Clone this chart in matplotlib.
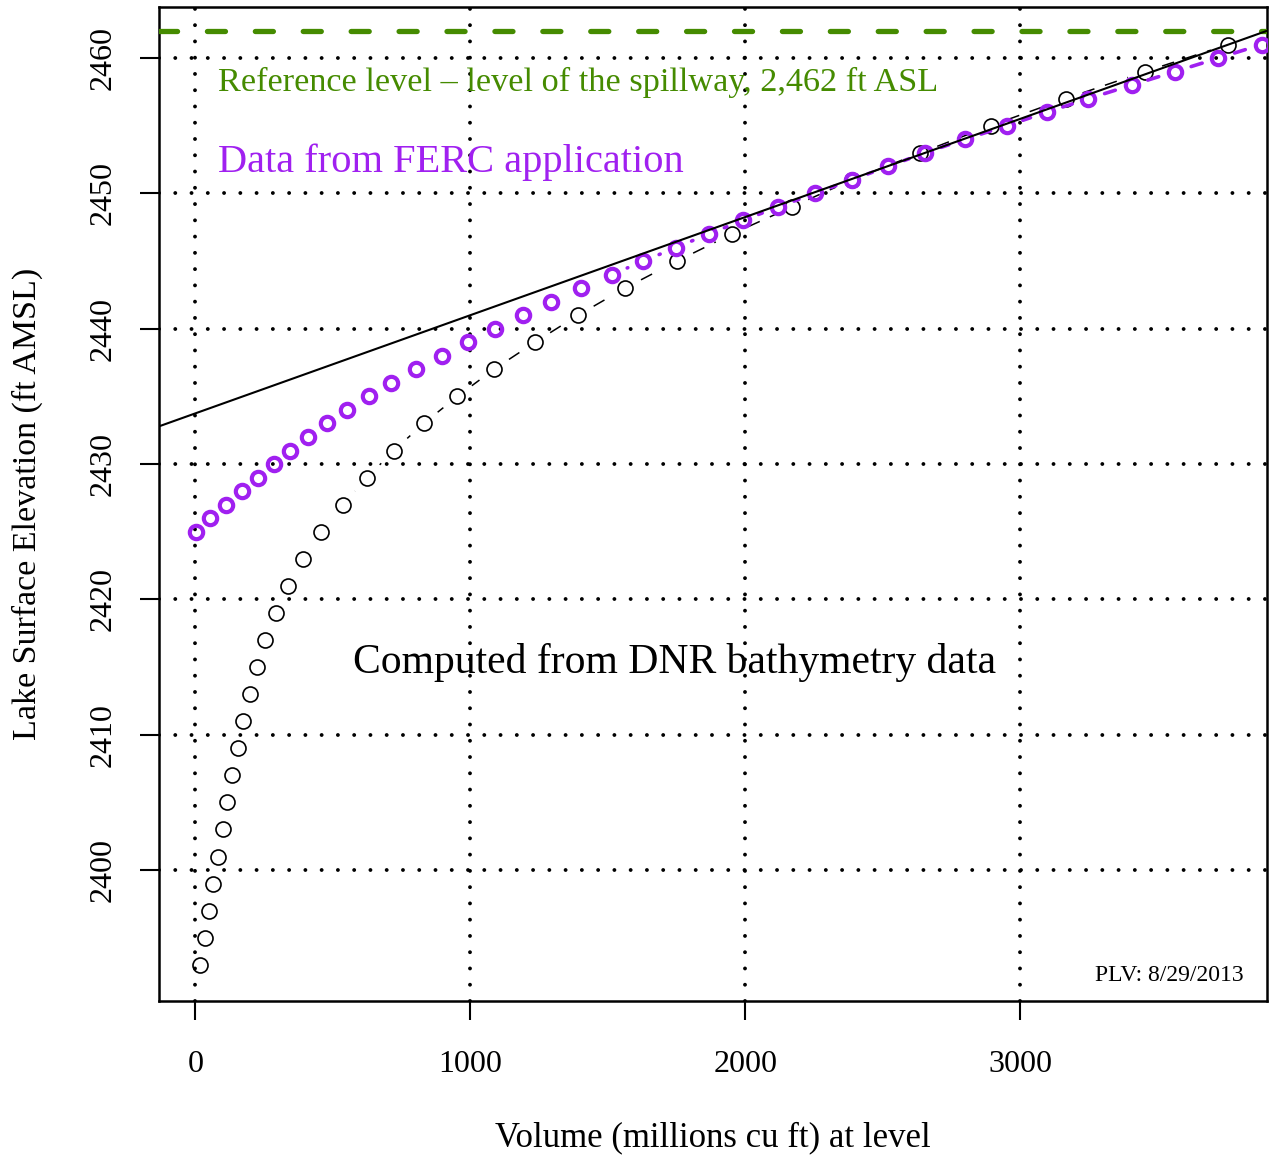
import numpy as np
import matplotlib
matplotlib.use("Agg")
import matplotlib.pyplot as plt
from matplotlib.collections import LineCollection

plt.rcParams['font.family'] = ['Liberation Serif', 'DejaVu Serif']
plt.rcParams['lines.scale_dashes'] = False

# DNR bathymetry: elevation (ft) vs volume (millions cu ft)
dnr_elev = [2393, 2395, 2397, 2399, 2401, 2403, 2405, 2407, 2409, 2411, 2413, 2415,
            2417, 2419, 2421, 2423, 2425, 2427, 2429, 2431, 2433, 2435, 2437, 2439,
            2441, 2443, 2445, 2447, 2449, 2451, 2453, 2455, 2457, 2459, 2461]
dnr_vol = [16, 33, 48, 65, 82, 99, 116, 134, 154, 174, 197, 224,
           254, 292, 337, 392, 458, 537, 624, 722, 830, 953, 1086, 1235,
           1392, 1563, 1752, 1952, 2170, 2389, 2638, 2893, 3166, 3455, 3757]

# FERC application data
ferc_elev = list(range(2425, 2462))
ferc_vol = [2, 54, 112, 170, 227, 285, 345, 410, 480, 552, 630, 713, 803,
            897, 992, 1089, 1192, 1295, 1404, 1514, 1630, 1748, 1867, 1991,
            2120, 2254, 2388, 2521, 2655, 2800, 2952, 3097, 3249, 3406, 3564,
            3722, 3879]

# fitted line and spillway level
fit_intercept = 2433.75
fit_slope = 0.00725
spillway = 2462

green = '#458B00'
purple = '#A020F0'

fig = plt.figure(figsize=(12.7, 11.59), dpi=100)
ax = fig.add_axes([0.1252, 0.1363, 0.8724, 0.8576])
ax.set_xlim(-132.8, 3898.8)
ax.set_ylim(2390.32, 2463.77)


def gapped_segments(xs, ys, gap_px):
    # like R's type="b": line pieces stop short of each point
    pts = ax.transData.transform(np.column_stack([xs, ys]))
    inv = ax.transData.inverted()
    segs = []
    for p, q in zip(pts[:-1], pts[1:]):
        d = q - p
        L = np.hypot(*d)
        if L <= 2 * gap_px:
            continue
        u = d / L
        segs.append(inv.transform([p + u * gap_px, q - u * gap_px]))
    return segs


# dotted grid
grid_kw = dict(color='black', lw=2.8, dashes=(0.01, 11.7), dash_capstyle='round', zorder=1)
for v in [0, 1000, 2000, 3000]:
    ax.axvline(v, **grid_kw)
for h in range(2400, 2461, 10):
    ax.axhline(h, **grid_kw)

ax.axhline(spillway, color=green, lw=3.8, dashes=(13, 21.5), dash_capstyle='round', zorder=6)

ax.add_collection(LineCollection(gapped_segments(dnr_vol, dnr_elev, 18), colors='black',
                                 linewidths=1.1, linestyles=[(0, (9, 8))], zorder=2))
ax.plot(dnr_vol, dnr_elev, ls='none', marker='o', ms=10.8, mfc='none', mec='black', mew=1.2, zorder=3)
ax.add_collection(LineCollection(gapped_segments(ferc_vol, ferc_elev, 17), colors=purple,
                                 linewidths=2.6, linestyles=[(0, (9, 8))], capstyle='round', zorder=4))
ax.plot(ferc_vol, ferc_elev, ls='none', marker='o', ms=9.6, mfc='none', mec=purple, mew=3.0, zorder=5)

ax.axline((0, fit_intercept), slope=fit_slope, color='black', lw=1.5, zorder=7)

ax.text(82, 2458.2, 'Reference level \u2013 level of the spillway, 2,462 ft ASL',
        color=green, fontsize=24.7, ha='left', va='center')
ax.text(82, 2452.3, 'Data from FERC application', color=purple, fontsize=29.2, ha='left', va='center')
ax.text(1745, 2415.3, 'Computed from DNR bathymetry data', color='black', fontsize=30,
        ha='center', va='center')
ax.text(3815, 2392.2, 'PLV: 8/29/2013', color='black', fontsize=17, ha='right', va='center')

ax.set_xticks([0, 1000, 2000, 3000])
ax.set_yticks(range(2400, 2461, 10))
ax.tick_params(axis='both', direction='out', length=14, width=1.5, labelsize=23)
ax.tick_params(axis='x', pad=21)
ax.tick_params(axis='y', pad=16)
for lab in ax.get_yticklabels():
    lab.set_rotation(90)
    lab.set_va('center')

for sp in ax.spines.values():
    sp.set_linewidth(1.8)

ax.set_xlabel('Volume (millions cu ft) at level', fontsize=25, va='center')
ax.xaxis.set_label_coords(0.5, -0.138)
ax.set_ylabel('Lake Surface Elevation (ft AMSL)', fontsize=24.5, va='center')
ax.yaxis.set_label_coords(-0.119, 0.5)

fig.savefig('out.png', dpi=100)
